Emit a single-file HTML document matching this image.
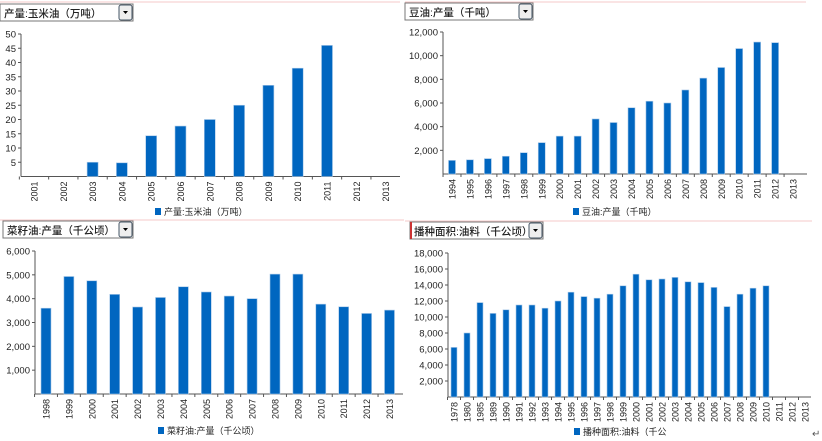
<!DOCTYPE html>
<html><head><meta charset="utf-8"><style>
html,body{margin:0;padding:0;background:#fff;width:822px;height:441px;overflow:hidden}
svg{font-family:"Liberation Sans","Noto Sans CJK SC",sans-serif}
</style></head><body>
<svg id="s" width="822" height="441" xmlns="http://www.w3.org/2000/svg"></svg>
<script>
const s=document.getElementById('s');let h='';
h+='<line x1="0" y1="2" x2="400" y2="2" stroke="#f5c8c8"/><line x1="405" y1="2" x2="806" y2="2" stroke="#f5c8c8"/>';
h+='<line x1="0" y1="220" x2="404" y2="220" stroke="#f5c8c8"/><line x1="405" y1="221" x2="812" y2="221" stroke="#f5c8c8"/>';
function box(x,y,w,t,red){
 h+=`<rect x="${x}" y="${y}" width="${w}" height="17" fill="#fff" stroke="#777"/>`;
 if(red)h+=`<rect x="${x}" y="${y}" width="2" height="17" fill="#c33"/>`;
 h+=`<text x="${x+4}" y="${y+13}" font-size="10.5" font-weight="500" fill="#222">${t}</text>`;
 const bx=x+w-14;
 h+=`<rect x="${bx}" y="${y+1}" width="13" height="15" rx="2" fill="#eee" stroke="#456"/><path d="M${bx+4} ${y+7}h5l-2.5 3z" fill="#000"/>`;
}
function chart(o){
 const {ax,base,top,max,step,cats,first,dx,bw,data,end,leg,lx,ly,comma}=o;
 const sc=(base-top)/max;
 h+=`<line x1="${ax}" y1="${top}" x2="${ax}" y2="${base}" stroke="#555"/><line x1="${ax}" y1="${base}" x2="${end}" y2="${base}" stroke="#555"/>`;
 for(let v=step;v<=max;v+=step){const y=base-v*sc;
  h+=`<line x1="${ax-3}" y1="${y}" x2="${ax}" y2="${y}" stroke="#555"/>`;
  h+=`<text x="${ax-5}" y="${y+3.5}" font-size="9.5" text-anchor="end" fill="#222">${comma?v.toLocaleString('en-US'):v}</text>`;}
 cats.forEach((c,i)=>{const cx=first+i*dx;
  const tx=cx-dx/2;h+=`<line x1="${tx}" y1="${base}" x2="${tx}" y2="${base+3}" stroke="#555"/>`;
  const v=data[i];if(v!=null){const y=base-v*sc;
   h+=`<rect x="${cx-bw/2}" y="${y}" width="${bw}" height="${base-y}" fill="#0066c0" stroke="#a8c8e8" stroke-width="0.6"/>`;}
  h+=`<text transform="translate(${cx+3.5},${base+5}) rotate(-90)" font-size="9" text-anchor="end" fill="#222">${c}</text>`;});
 h+=`<rect x="${lx}" y="${ly-7}" width="6" height="7" fill="#0066c0"/><text x="${lx+9}" y="${ly}" font-size="9" fill="#222">${leg}</text>`;
}
const r=(a,b)=>{let x=[];for(let i=a;i<=b;i++)x.push(i);return x};
box(0,4,133,'产量:玉米油（万吨）');
chart({ax:21,base:176.5,top:34,max:50,step:5,cats:r(2001,2013),first:34,dx:29.3,bw:11,end:400,
 data:[null,null,5,4.8,14.3,17.7,20,25,32,38,46,null,null],leg:'产量:玉米油（万吨）',lx:155,ly:215});
box(405,3,128,'豆油:产量（千吨）');
chart({ax:443,base:174,top:32,max:12000,step:2000,comma:1,cats:r(1994,2013),first:452,dx:17.95,bw:7,end:807,
 data:[1150,1200,1300,1500,1800,2650,3200,3200,4650,4350,5600,6150,6000,7100,8100,9000,10600,11150,11100,null],leg:'豆油:产量（千吨）',lx:573,ly:215});
box(3,221,130,'菜籽油:产量（千公顷）');
chart({ax:35,base:394,top:251,max:6000,step:1000,comma:1,cats:r(1998,2013),first:46,dx:22.9,bw:10,end:403,
 data:[3600,4930,4750,4180,3650,4050,4500,4280,4110,4000,5030,5030,3770,3660,3380,3520],leg:'菜籽油:产量（千公顷）',lx:158,ly:434});
box(410,222,133,'播种面积:油料（千公顷）',1);
chart({ax:448,base:397,top:253,max:18000,step:2000,comma:1,cats:[1978,1980,1985,1989].concat(r(1990,2013)),first:454,dx:13,bw:6,end:811,
 data:[6200,8000,11800,10450,10900,11500,11500,11100,12000,13100,12550,12350,12850,13900,15350,14650,14750,14950,14400,14300,13700,11300,12850,13600,13900,null,null,null],leg:'播种面积:油料（千公',lx:574,ly:435});
h+='<text x="812" y="437" font-size="10" fill="#555">↵</text>';
s.innerHTML=h;
</script>
</body></html>
